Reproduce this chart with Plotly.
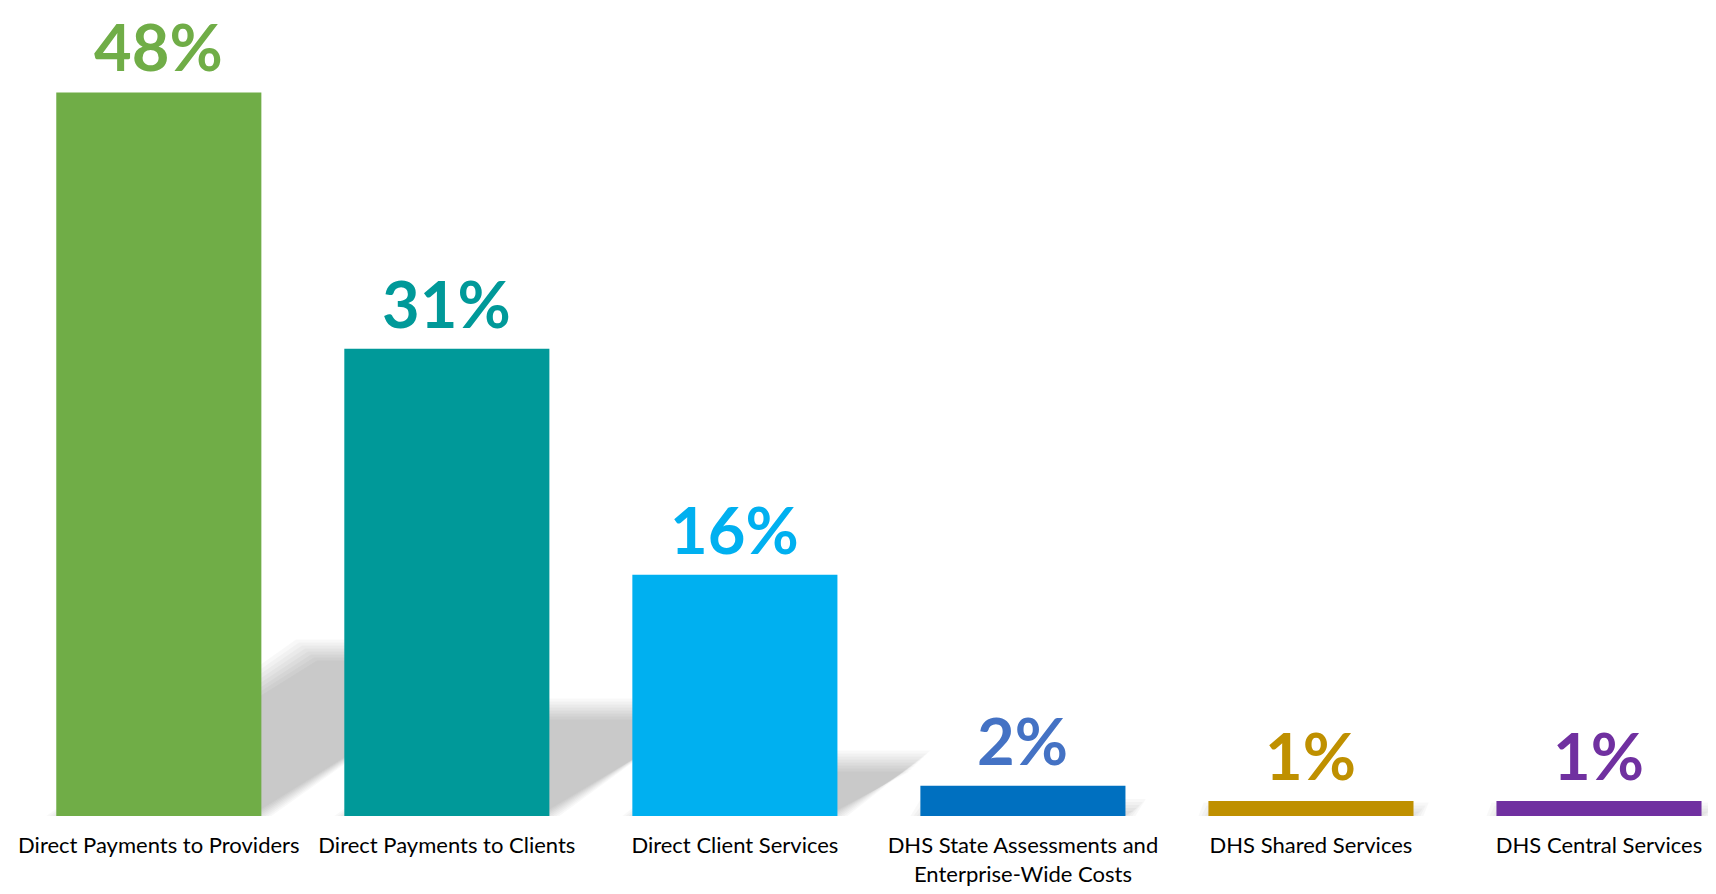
import plotly.graph_objects as go

categories = [
    "Direct Payments to Providers",
    "Direct Payments to Clients",
    "Direct Client Services",
    "DHS State Assessments and<br>Enterprise-Wide Costs",
    "DHS Shared Services",
    "DHS Central Services",
]
values = [48, 31, 16, 2, 1, 1]
bar_colors = ["#70AD47", "#009999", "#00B0F0", "#0070C0", "#BF9000", "#7030A0"]
label_colors = ["#70AD47", "#009999", "#00B0F0", "#4472C4", "#BF9000", "#7030A0"]

W, H = 1716, 894
M_B = 86
X_RANGE = [-0.5236, 5.434]
Y_RANGE = [0, 53.6]
BAR_W = 0.712

px_per_x = W / (X_RANGE[1] - X_RANGE[0])
px_per_y = (H - M_B) / (Y_RANGE[1] - Y_RANGE[0])

xs = list(range(len(categories)))

fig = go.Figure()
fig.add_trace(go.Bar(
    x=xs, y=values, width=BAR_W,
    marker=dict(color=bar_colors, line=dict(width=0)),
    hoverinfo="skip",
))

# soft perspective shadows behind bars (derived from values)
SH_RATIO = 0.23
SH_SLANT = 1.5
layers = [10, 7, 4, 1, -2, -5, -8, -11]
shapes = []
for x, v in zip(xs, values):
    h = SH_RATIO * v
    dx = SH_SLANT * h * px_per_y / px_per_x
    x0, x1 = x - BAR_W / 2, x + BAR_W / 2
    for d in layers:
        ddx = d / px_per_x
        ddy = d / px_per_y
        if h + ddy <= 0:
            continue
        path = (f"M {x0 - ddx} 0 L {x1 + ddx} 0 "
                f"L {x1 + dx + ddx} {h + ddy} L {x0 + dx - ddx} {h + ddy} Z")
        shapes.append(dict(type="path", path=path, xref="x", yref="y",
                           fillcolor="rgba(0,0,0,0.027)", line=dict(width=0),
                           layer="below"))

annotations = []
for x, v, c in zip(xs, values, label_colors):
    annotations.append(dict(
        x=x, y=v, xref="x", yref="y", text=f"{v}%", showarrow=False,
        yanchor="bottom", yshift=6, borderpad=0,
        font=dict(family="Lato", size=65, color=c, weight="bold"),
    ))

fig.update_layout(
    width=W, height=H,
    margin=dict(l=0, r=0, t=0, b=M_B),
    paper_bgcolor="white", plot_bgcolor="white",
    showlegend=False,
    shapes=shapes,
    annotations=annotations,
    xaxis=dict(
        range=X_RANGE, tickmode="array", tickvals=xs, ticktext=categories,
        showgrid=False, zeroline=False, showline=False, ticks="",
        tickfont=dict(family="Lato", size=22, color="#000000"),
        ticklabelstandoff=14,
    ),
    yaxis=dict(range=Y_RANGE, visible=False, showgrid=False, zeroline=False),
)

fig.write_html("out.html")
